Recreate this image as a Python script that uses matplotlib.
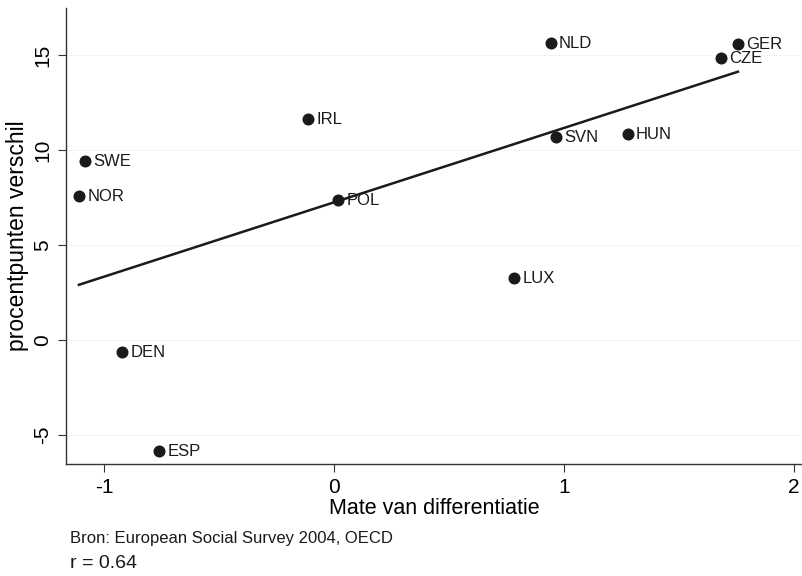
import numpy as np
import matplotlib
matplotlib.use("Agg")
import matplotlib.pyplot as plt

countries = ["SWE", "NOR", "IRL", "POL", "NLD", "GER", "CZE", "SVN", "HUN", "LUX", "DEN", "ESP"]
differentiatie = [-1.083, -1.109, -0.113, 0.020, 0.943, 1.757, 1.683, 0.965, 1.278, 0.783, -0.922, -0.760]
verschil = [9.42, 7.58, 11.63, 7.37, 15.63, 15.58, 14.84, 10.68, 10.84, 3.26, -0.63, -5.84]
x_ticks = [-1, 0, 1, 2]
y_ticks = [-5, 0, 5, 10, 15]

plt.rcParams['font.family'] = ['Liberation Sans', 'DejaVu Sans']

fig = plt.figure(figsize=(8.03, 5.76), dpi=100)
ax = fig.add_axes([66/803, 1 - 464/576, 1 - 66/803, (464 - 8)/576])

x = np.array(differentiatie)
y = np.array(verschil)

# horizontal faint grid
for yt in y_ticks:
    ax.axhline(yt, color="#d8d8d8", lw=0.6, ls=(0, (1, 2)), zorder=0)

ax.scatter(x, y, s=75, color="#1a1a1a", zorder=3, linewidths=0)
for c, xi, yi in zip(countries, x, y):
    ax.annotate(c, (xi, yi), xytext=(6, -0.5), textcoords="offset points",
                va="center", ha="left", fontsize=12, color="#1a1a1a")

slope, intercept = np.polyfit(x, y, 1)
xl = np.array([x.min(), x.max()])
ax.plot(xl, slope * xl + intercept, color="#1a1a1a", lw=1.8, zorder=2)

ax.set_xlim(-1.165, 2.04)
ax.set_ylim(-6.53, 17.47)
ax.set_xticks(x_ticks)
ax.set_yticks(y_ticks)
ax.set_xticklabels([str(t) for t in x_ticks], fontsize=15)
ax.set_yticklabels([str(t) for t in y_ticks], fontsize=15, rotation=90, va="center")
ax.tick_params(direction="out", length=6, width=0.8, color="#333333", pad=4)
for s in ["top", "right"]:
    ax.spines[s].set_visible(False)
for s in ["left", "bottom"]:
    ax.spines[s].set_color("#333333")
    ax.spines[s].set_linewidth(1.0)

ax.set_xlabel("Mate van differentiatie", fontsize=15.5, labelpad=1)
ax.set_ylabel("procentpunten verschil", fontsize=16.5, labelpad=3)

fig.text(70/803, 1 - 538/576, "Bron: European Social Survey 2004, OECD", fontsize=12, va="center", ha="left", color="#1a1a1a")
fig.text(70/803, 1 - 564/576, "r = 0.64", fontsize=14, va="center", ha="left", color="#1a1a1a")

fig.savefig("out.png", dpi=100)
